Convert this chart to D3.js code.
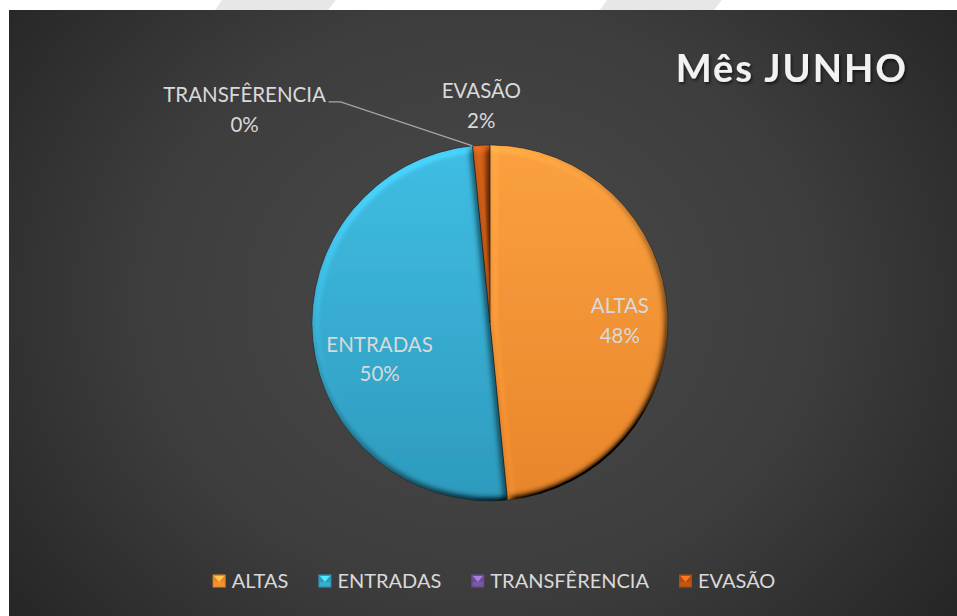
<!DOCTYPE html>
<html>
<head>
<meta charset="utf-8">
<script src="https://cdn.jsdelivr.net/npm/d3@7"></script>
<style>
  html, body { margin: 0; padding: 0; background: #ffffff; }
  svg { display: block; }
</style>
</head>
<body>
<svg id="chart" width="957" height="616"></svg>
<script>
// Movimento do mês de junho
const categories = ["ALTAS", "ENTRADAS", "TRANSFÊRENCIA", "EVASÃO"];
const values = [31, 32, 0, 1];
const title = "Mês JUNHO";

const colors = {
  "ALTAS":         { top: "#FBA140", bottom: "#E9862B", base: "#F39431" },
  "ENTRADAS":      { top: "#40BEE4", bottom: "#2E9BBD", base: "#37ADD2" },
  "TRANSFÊRENCIA": { top: "#8A68B4", bottom: "#6A4C94", base: "#7A5AA6" },
  "EVASÃO":        { top: "#D2611A", bottom: "#B24E0C", base: "#C45812" }
};

const W = 957, H = 616;
const svg = d3.select("#chart");
const defs = svg.append("defs");

// background panel gradient
const bg = defs.append("radialGradient").attr("id", "bgGrad")
  .attr("gradientUnits", "userSpaceOnUse")
  .attr("cx", 480).attr("cy", 300).attr("r", 560)
  .attr("gradientTransform", "translate(480,300) scale(1.1,0.95) translate(-480,-300)");
bg.append("stop").attr("offset", 0).attr("stop-color", "#4a4a4a");
bg.append("stop").attr("offset", 0.55).attr("stop-color", "#3d3d3d");
bg.append("stop").attr("offset", 1).attr("stop-color", "#242424");

// bevel lighting for the slices
function bevel(id, blur, scale) {
  const f = defs.append("filter").attr("id", id)
    .attr("x", "-10%").attr("y", "-10%").attr("width", "120%").attr("height", "120%");
  f.append("feGaussianBlur").attr("in", "SourceAlpha").attr("stdDeviation", blur).attr("result", "b");
  const d = f.append("feDiffuseLighting").attr("in", "b").attr("surfaceScale", scale)
    .attr("diffuseConstant", 1).attr("lighting-color", "#ffffff").attr("result", "light");
  d.append("feDistantLight").attr("azimuth", 235).attr("elevation", 50);
  f.append("feComposite").attr("in", "SourceGraphic").attr("in2", "light")
    .attr("operator", "arithmetic").attr("k1", 1.3).attr("k2", 0).attr("k3", 0).attr("k4", 0)
    .attr("result", "lit");
  f.append("feComposite").attr("in", "lit").attr("in2", "SourceAlpha").attr("operator", "in");
}
bevel("bevel", 3.5, 6);

const shadow = defs.append("filter").attr("id", "titleShadow")
  .attr("x", "-10%").attr("y", "-30%").attr("width", "130%").attr("height", "160%");
shadow.append("feDropShadow").attr("dx", 1.5).attr("dy", 2).attr("stdDeviation", 1.5)
  .attr("flood-color", "#000").attr("flood-opacity", 0.6);

categories.forEach((c, i) => {
  const g = defs.append("linearGradient").attr("id", "g-" + i)
    .attr("x1", 0).attr("y1", 0).attr("x2", 0).attr("y2", 1);
  g.append("stop").attr("offset", 0).attr("stop-color", colors[c].top);
  g.append("stop").attr("offset", 1).attr("stop-color", colors[c].bottom);
});

// page strip above the panel
svg.append("rect").attr("width", W).attr("height", H).attr("fill", "#ffffff");
svg.append("polygon").attr("points", "222,0 336,0 328,10 215,10").attr("fill", "#e7e7e7");
svg.append("polygon").attr("points", "607,0 722,0 714,10 600,10").attr("fill", "#e7e7e7");

// chart panel
svg.append("rect").attr("x", 9).attr("y", 10).attr("width", W - 9).attr("height", H - 10)
  .attr("fill", "url(#bgGrad)");

// title
svg.append("text").attr("x", 908).attr("y", 82).attr("text-anchor", "end")
  .attr("font-family", "Lato, 'Open Sans', sans-serif").attr("font-weight", 700)
  .attr("font-size", 38).attr("letter-spacing", 2).attr("fill", "#f2f2f2")
  .attr("filter", "url(#titleShadow)").text(title);

// pie
const cx = 490, cy = 323, R = 178;
const data = categories.map((c, i) => ({ cat: c, value: values[i], idx: i }));
const pie = d3.pie().value(d => d.value).sort(null);
const arcs = pie(data);
const arc = d3.arc().innerRadius(0).outerRadius(R);
const total = d3.sum(values);
const pct = v => Math.round(v / total * 100) + "%";

const pg = svg.append("g").attr("transform", `translate(${cx},${cy})`);
pg.selectAll("path.slice").data(arcs.filter(a => a.value > 0)).join("path")
  .attr("class", "slice")
  .attr("d", arc)
  .attr("fill", d => `url(#g-${d.data.idx})`)
  .attr("filter", "url(#bevel)");
pg.selectAll("path.edge").data(arcs.filter(a => a.value > 0)).join("path")
  .attr("class", "edge")
  .attr("d", arc)
  .attr("fill", "none")
  .attr("stroke", "rgba(30,30,30,0.55)")
  .attr("stroke-width", 0.8);

// data labels
const labelFont = "Lato, 'Open Sans', sans-serif";
const labelColor = "#d9d9d9";
const labelSize = 20.5;
const lineGap = 29.5;

// inside labels sit on an arc through the slice; small labels go outside
const inner = d3.arc().innerRadius(126).outerRadius(126);
const insideNudge = { "ALTAS": [4, 4], "ENTRADAS": [15, 24] };
const outsidePos = {
  // label centre offsets relative to the slice's outer edge point
  "TRANSFÊRENCIA": [-228, -36],
  "EVASÃO": [0, -39]
};

function drawLabel(x, y, a) {
  const t = pg.append("text").attr("text-anchor", "middle")
    .attr("font-family", labelFont).attr("font-size", labelSize).attr("fill", labelColor);
  t.append("tspan").attr("x", x).attr("y", y - lineGap / 2 + 7).text(a.data.cat);
  t.append("tspan").attr("x", x).attr("y", y + lineGap / 2 + 7).text(pct(a.value));
}

arcs.forEach(a => {
  const c = a.data.cat;
  if (insideNudge[c]) {
    const [x, y] = inner.centroid(a);
    drawLabel(x + insideNudge[c][0], y + insideNudge[c][1], a);
  } else {
    const mid = (a.startAngle + a.endAngle) / 2;
    const ex = R * Math.sin(mid), ey = -R * Math.cos(mid);
    const lx = ex + outsidePos[c][0], ly = ey + outsidePos[c][1];
    drawLabel(lx, ly, a);
    if (c === "TRANSFÊRENCIA") {
      const sx = lx + 84, sy = ly - 8;
      pg.append("polyline")
        .attr("points", `${sx},${sy} ${sx + 12},${sy} ${ex},${ey}`)
        .attr("fill", "none").attr("stroke", "#a6a6a6").attr("stroke-width", 1.3);
    }
  }
});

// legend
const legendY = 581;
const lg = svg.append("g");
const itemGap = 30, swatch = 13, swGap = 6;
const legendSize = 20;
const tmp = svg.append("text").attr("font-family", labelFont).attr("font-size", legendSize);
const widths = categories.map(c => { tmp.text(c); return tmp.node().getComputedTextLength(); });
tmp.remove();
const totalW = d3.sum(widths) + categories.length * (swatch + swGap) + (categories.length - 1) * itemGap;
let lx = 494 - totalW / 2;
categories.forEach((c, i) => {
  const g = lg.append("g").attr("transform", `translate(${lx},${legendY})`);
  g.append("rect").attr("x", 0).attr("y", -swatch / 2).attr("width", swatch).attr("height", swatch)
    .attr("fill", colors[c].bottom);
  g.append("polygon")
    .attr("points", `1.5,${-swatch / 2 + 1.5} ${swatch - 1.5},${-swatch / 2 + 1.5} ${swatch / 2},${1}`)
    .attr("fill", d3.color(colors[c].top).brighter(0.6));
  g.append("rect").attr("x", 1.5).attr("y", 1).attr("width", swatch - 3).attr("height", swatch / 2 - 2.5)
    .attr("fill", colors[c].base);
  g.append("text").attr("x", swatch + swGap).attr("y", 7)
    .attr("font-family", labelFont).attr("font-size", legendSize).attr("fill", labelColor)
    .text(c);
  lx += swatch + swGap + widths[i] + itemGap;
});
</script>
</body>
</html>
